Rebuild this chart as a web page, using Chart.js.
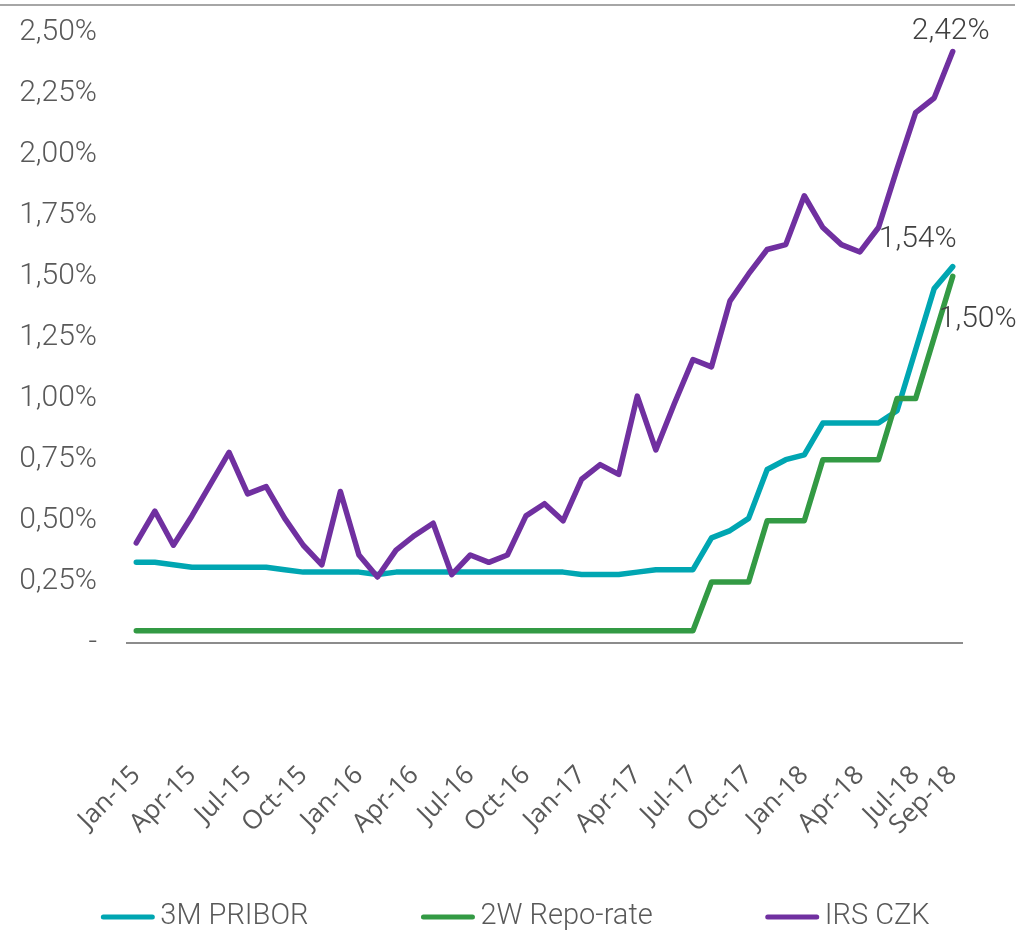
<!DOCTYPE html>
<html>
<head>
<meta charset="utf-8">
<script src="https://cdn.jsdelivr.net/npm/chart.js@4.4.1/dist/chart.umd.min.js"></script>
<style>
  html, body { margin: 0; padding: 0; background: #fff; }
  #wrap { width: 1023px; height: 936px; position: relative; }
</style>
</head>
<body>
<div id="wrap"><canvas id="rates"></canvas></div>
<script>
var months = [
  'Jan-15','Feb-15','Mar-15','Apr-15','May-15','Jun-15','Jul-15','Aug-15','Sep-15','Oct-15','Nov-15','Dec-15',
  'Jan-16','Feb-16','Mar-16','Apr-16','May-16','Jun-16','Jul-16','Aug-16','Sep-16','Oct-16','Nov-16','Dec-16',
  'Jan-17','Feb-17','Mar-17','Apr-17','May-17','Jun-17','Jul-17','Aug-17','Sep-17','Oct-17','Nov-17','Dec-17',
  'Jan-18','Feb-18','Mar-18','Apr-18','May-18','Jun-18','Jul-18','Aug-18','Sep-18'
];
var shownMonths = ['Jan-15','Apr-15','Jul-15','Oct-15','Jan-16','Apr-16','Jul-16','Oct-16',
  'Jan-17','Apr-17','Jul-17','Oct-17','Jan-18','Apr-18','Jul-18','Sep-18'];

var pribor = [
  0.33,0.33,0.32,0.31,0.31,0.31,0.31,0.31,0.30,0.29,0.29,0.29,
  0.29,0.28,0.29,0.29,0.29,0.29,0.29,0.29,0.29,0.29,0.29,0.29,
  0.28,0.28,0.28,0.29,0.30,0.30,0.30,0.43,0.46,0.51,0.71,0.75,
  0.77,0.90,0.90,0.90,0.90,0.95,1.20,1.45,1.54
];
var repo = [
  0.05,0.05,0.05,0.05,0.05,0.05,0.05,0.05,0.05,0.05,0.05,0.05,
  0.05,0.05,0.05,0.05,0.05,0.05,0.05,0.05,0.05,0.05,0.05,0.05,
  0.05,0.05,0.05,0.05,0.05,0.05,0.05,0.25,0.25,0.25,0.50,0.50,
  0.50,0.75,0.75,0.75,0.75,1.00,1.00,1.25,1.50
];
var irs = [
  0.41,0.54,0.40,0.52,0.65,0.78,0.61,0.64,0.51,0.40,0.32,0.62,
  0.36,0.27,0.38,0.44,0.49,0.28,0.36,0.33,0.36,0.52,0.57,0.50,
  0.67,0.73,0.69,1.01,0.79,0.98,1.16,1.13,1.40,1.51,1.61,1.63,
  1.83,1.70,1.63,1.60,1.70,1.94,2.17,2.23,2.42
];

var grey = '#595959';
var condensed = "Roboto, 'Liberation Sans', Arial, sans-serif";

function pct(v) {
  return v.toFixed(2).replace('.', ',') + '%';
}

// end-of-line value labels, the legend and the rule at the top
var extras = {
  id: 'extras',
  afterDatasetsDraw(chart) {
    var ctx = chart.ctx;
    var offsets = { 'IRS CZK': [-2, -20], '3M PRIBOR': [-35, -27], '2W Repo-rate': [25, 43] };
    ctx.save();
    ctx.font = '300 30px ' + condensed;
    ctx.fillStyle = '#404040';
    ctx.textAlign = 'center';
    ctx.textBaseline = 'middle';
    chart.data.datasets.forEach(function(ds, i) {
      var pts = chart.getDatasetMeta(i).data;
      var p = pts[pts.length - 1];
      var o = offsets[ds.label];
      ctx.fillText(pct(ds.data[ds.data.length - 1]), p.x + o[0], p.y + o[1]);
    });
    ctx.restore();
  },
  afterDraw(chart) {
    var ctx = chart.ctx;
    ctx.save();
    ctx.strokeStyle = '#a6a6a6';
    ctx.lineWidth = 2;
    ctx.beginPath();
    ctx.moveTo(0, 5);
    ctx.lineTo(1015, 5);
    ctx.stroke();

    // legend, in reading order
    var items = chart.data.datasets.slice().reverse();
    ctx.font = '300 29px ' + condensed;
    var sw = 55, gap = 5, space = 112;
    var total = 0;
    items.forEach(function(ds, k) {
      total += sw + gap + ctx.measureText(ds.label).width + (k ? space : 0);
    });
    var x = 515 - total / 2, y = 917;
    ctx.textBaseline = 'middle';
    ctx.textAlign = 'left';
    items.forEach(function(ds) {
      ctx.strokeStyle = ds.borderColor;
      ctx.lineWidth = 5;
      ctx.lineCap = 'round';
      ctx.beginPath();
      ctx.moveTo(x + 3, y);
      ctx.lineTo(x + sw - 3, y);
      ctx.stroke();
      ctx.fillStyle = grey;
      ctx.fillText(ds.label, x + sw + gap, y);
      x += sw + gap + ctx.measureText(ds.label).width + space;
    });
    ctx.restore();
  }
};

function lineSet(label, data, color) {
  return {
    label: label,
    data: data,
    borderColor: color,
    backgroundColor: color,
    borderWidth: 5.5,
    borderCapStyle: 'round',
    borderJoinStyle: 'round',
    pointRadius: 0,
    tension: 0,
    fill: false
  };
}

var ctx = document.getElementById('rates').getContext('2d');
var ratesChart = new Chart(ctx, {
  type: 'line',
  data: {
    labels: months,
    datasets: [
      lineSet('IRS CZK', irs, '#7030a0'),
      lineSet('2W Repo-rate', repo, '#339a44'),
      lineSet('3M PRIBOR', pribor, '#00a6b2')
    ]
  },
  options: {
    responsive: true,
    maintainAspectRatio: false,
    animation: false,
    layout: { padding: { top: 32, right: 61, left: 0, bottom: 0 } },
    plugins: {
      legend: { display: false },
      tooltip: { enabled: false }
    },
    scales: {
      x: {
        offset: true,
        grid: { display: false, drawTicks: false },
        border: { display: true, color: '#8c8c8c', width: 2 },
        ticks: {
          autoSkip: false,
          minRotation: 45,
          maxRotation: 45,
          padding: 117,
          color: grey,
          font: { family: "'Open Sans', 'DejaVu Sans', sans-serif", size: 26 },
          callback: function(v, i) {
            var m = months[i];
            return shownMonths.indexOf(m) >= 0 ? m : null;
          }
        },
        afterFit: function(scale) {
          scale.height = 293;
          scale.paddingLeft = 0;
          scale.paddingRight = 0;
        }
      },
      y: {
        min: 0,
        max: 2.5,
        grid: { display: false, drawTicks: false },
        border: { display: false },
        ticks: {
          stepSize: 0.25,
          padding: 30,
          color: grey,
          font: { family: condensed, size: 30, weight: '300' },
          callback: function(v) { return v === 0 ? '-' : pct(v); }
        },
        afterFit: function(scale) {
          scale.width = 127;
          scale.paddingTop = 0;
          scale.paddingBottom = 0;
        }
      }
    }
  },
  plugins: [extras]
});
</script>
</body>
</html>
